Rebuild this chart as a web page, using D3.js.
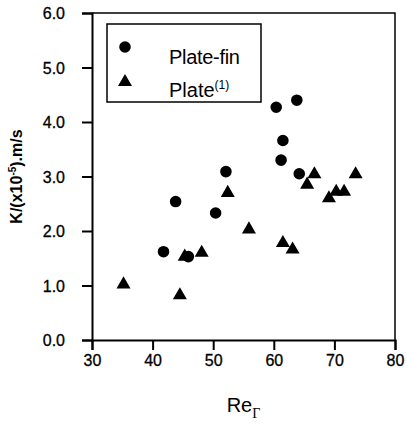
<!DOCTYPE html>
<html>
<head>
<meta charset="utf-8">
<script src="https://cdn.jsdelivr.net/npm/d3@7"></script>
<style>
  body { margin: 0; background: #fff; }
  text { font-family: "Liberation Sans", Arial, sans-serif; fill: #000; }
</style>
</head>
<body>
<div id="chart"></div>
<script>
// Plate-fin measurements
const plateFinRe = [41.8, 43.8, 45.9, 50.4, 52.1, 60.4, 61.2, 61.5, 63.8, 64.2];
const plateFinK  = [1.62, 2.54, 1.53, 2.33, 3.09, 4.27, 3.30, 3.66, 4.40, 3.05];

// Plate (1) measurements
const plateRe = [35.2, 44.5, 45.3, 48.1, 52.4, 55.9, 61.5, 63.1, 65.5, 66.7, 69.1, 70.3, 71.6, 73.5];
const plateK  = [1.02, 0.82, 1.53, 1.60, 2.70, 2.03, 1.78, 1.66, 2.85, 3.04, 2.60, 2.72, 2.72, 3.04];

const xTicks = [30, 40, 50, 60, 70, 80];
const yTicks = [0, 1, 2, 3, 4, 5, 6];
const legendLabels = ["Plate-fin", "Plate"];

const width = 407, height = 425;
const margin = { top: 13, left: 92, right: 12, bottom: 85 };

const svg = d3.select("#chart").append("svg")
    .attr("width", width)
    .attr("height", height);

const x = d3.scaleLinear().domain([30, 80]).range([margin.left, width - margin.right]);
const y = d3.scaleLinear().domain([0, 6]).range([height - margin.bottom, margin.top]);

// Frame (top and right)
svg.append("path")
    .attr("d", `M${x(30)},${y(6)}H${x(80)}V${y(0)}`)
    .attr("fill", "none")
    .attr("stroke", "#000")
    .attr("stroke-width", 1.5);

// X axis with major and minor ticks
const xAxis = svg.append("g").attr("transform", `translate(0,${y(0)})`);
xAxis.call(d3.axisBottom(x).tickValues(d3.range(30, 81, 5)).tickSize(6).tickFormat(""));
xAxis.call(d3.axisBottom(x).tickValues(xTicks).tickSize(10).tickFormat(d3.format("d")));
xAxis.selectAll("path").attr("stroke-width", 2);
xAxis.selectAll("line").attr("stroke-width", 2);
xAxis.selectAll("text")
    .attr("dy", "0")
    .attr("y", 26)
    .style("font-size", "16px")
    .style("stroke", "#000")
    .style("stroke-width", 0.3)
    .style("font-family", "'Liberation Sans', Arial, sans-serif");

// Y axis with major and minor ticks
const yAxis = svg.append("g").attr("transform", `translate(${x(30)},0)`);
yAxis.call(d3.axisLeft(y).tickValues(d3.range(0, 6.01, 0.5)).tickSize(5).tickFormat(""));
yAxis.call(d3.axisLeft(y).tickValues(yTicks).tickSize(10).tickFormat(d3.format(".1f")));
yAxis.selectAll("path").attr("stroke-width", 2);
yAxis.selectAll("line").attr("stroke-width", 2);
yAxis.selectAll("text")
    .attr("x", -27)
    .attr("dy", "0.35em")
    .style("font-size", "16px")
    .style("stroke", "#000")
    .style("stroke-width", 0.3)
    .style("font-family", "'Liberation Sans', Arial, sans-serif");

// Axis titles
const yTitle = svg.append("text")
    .attr("transform", `translate(22,${(y(0) + y(6)) / 2}) rotate(-90)`)
    .attr("text-anchor", "middle")
    .style("font-size", "16px")
    .style("font-weight", "bold");
yTitle.append("tspan").text("K/(x10");
yTitle.append("tspan").attr("dy", -6).style("font-size", "10px").text("-5");
yTitle.append("tspan").attr("dy", 6).text(").m/s");

const xTitle = svg.append("text")
    .attr("x", (x(30) + x(80)) / 2)
    .attr("y", 412)
    .attr("text-anchor", "middle")
    .style("font-size", "20px");
xTitle.append("tspan").text("Re");
xTitle.append("tspan")
    .attr("dy", 6)
    .style("font-size", "14px")
    .style("font-family", "'Liberation Serif', serif")
    .text("Γ");

// Markers
const circleSym = d3.symbol().type(d3.symbolCircle).size(105);
const triSym = d3.symbol().type(d3.symbolTriangle).size(85);

svg.append("g")
    .selectAll("path")
    .data(plateFinRe.map((re, i) => ({ re, k: plateFinK[i] })))
    .enter()
    .append("path")
    .attr("d", circleSym)
    .attr("transform", d => `translate(${x(d.re)},${y(d.k)})`)
    .attr("fill", "#000");

svg.append("g")
    .selectAll("path")
    .data(plateRe.map((re, i) => ({ re, k: plateK[i] })))
    .enter()
    .append("path")
    .attr("d", triSym)
    .attr("transform", d => `translate(${x(d.re)},${y(d.k)})`)
    .attr("fill", "#000");

// Legend
const legend = svg.append("g").attr("transform", "translate(107,24)");
legend.append("rect")
    .attr("width", 154)
    .attr("height", 78)
    .attr("fill", "#fff")
    .attr("stroke", "#000")
    .attr("stroke-width", 1.5);
legend.append("path").attr("d", circleSym).attr("transform", "translate(18,23)");
legend.append("path").attr("d", triSym).attr("transform", "translate(18,58)");
legend.append("text")
    .attr("x", 62).attr("y", 40)
    .style("font-size", "20px")
    .style("letter-spacing", "-0.3px")
    .text(legendLabels[0]);
const plateLabel = legend.append("text")
    .attr("x", 62).attr("y", 73)
    .style("font-size", "20px");
plateLabel.append("tspan").text(legendLabels[1]);
plateLabel.append("tspan").attr("dy", -8).style("font-size", "12px").text("(1)");
</script>
</body>
</html>
